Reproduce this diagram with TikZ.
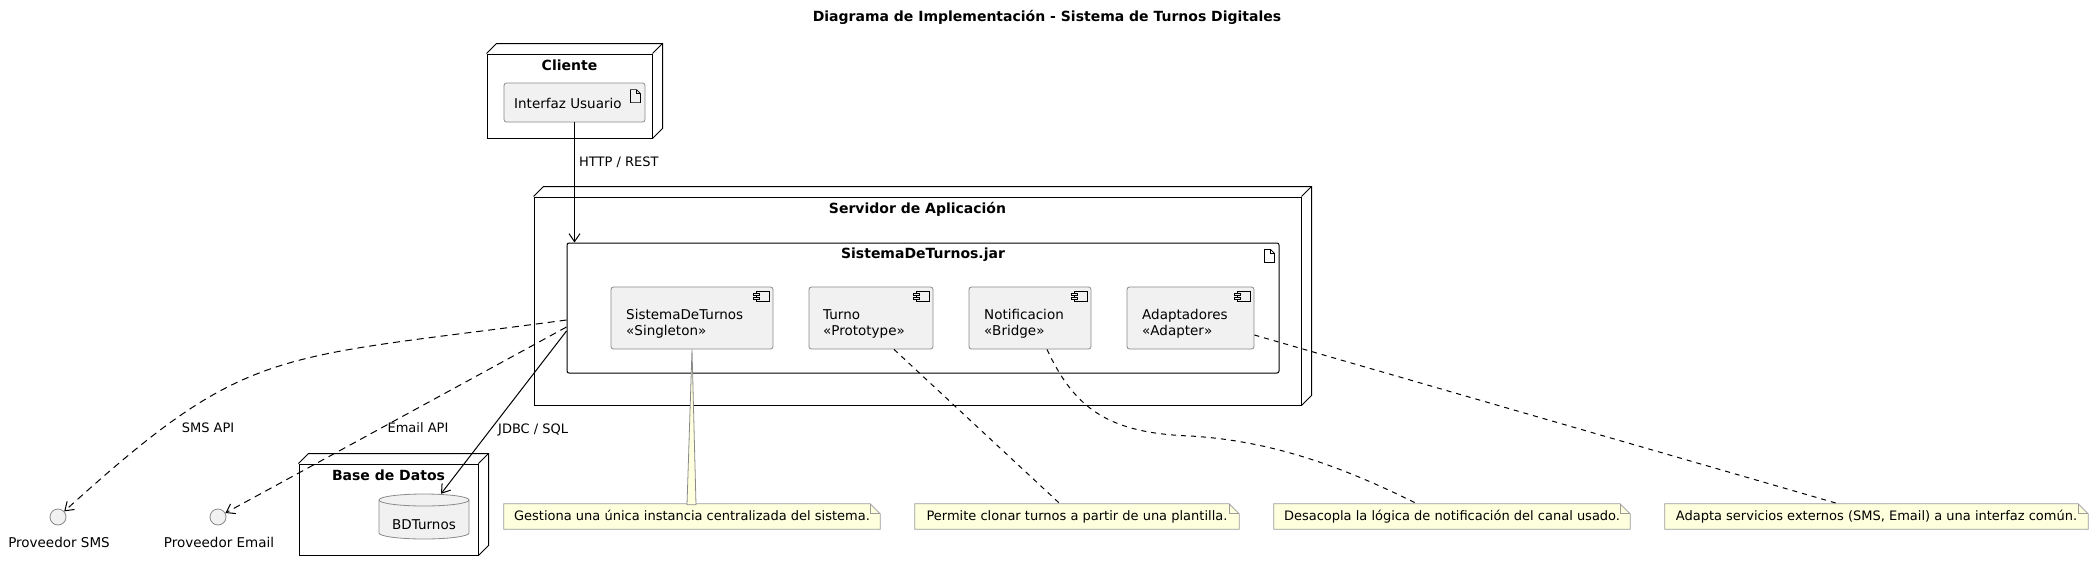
\documentclass[tikz,border=0pt]{standalone}
\usepackage{fontspec}
\setmainfont{DejaVu Sans}
\usepackage{tikz}
\usetikzlibrary{arrows.meta, backgrounds}
\definecolor{elemfill}{HTML}{F1F1F1}
\definecolor{elemgray}{HTML}{8A8A8A}
\definecolor{notefill}{HTML}{FEFFDD}
\definecolor{notegray}{HTML}{9A9A9A}
\tikzset{depnode/.style = {shape=rectangle,draw,line width=1pt,fill=white,inner sep=0pt}}
\tikzset{artifact/.style = {shape=rectangle,draw,line width=1pt,fill=white,rounded corners=2pt,inner sep=0pt}}
\tikzset{elem/.style = {shape=rectangle,draw=elemgray,fill=elemfill,line width=0.8pt,rounded corners=2.5pt,inner sep=0pt}}
\tikzset{iface/.style = {shape=circle,draw=elemgray,fill=elemfill,line width=0.8pt,minimum size=16pt,inner sep=0pt}}
\tikzset{notebox/.style = {shape=rectangle,inner sep=0pt,font=\fontsize{13}{15}\selectfont,text height=10pt,text depth=3pt}}
\tikzset{heading/.style = {font=\bfseries\fontsize{14}{16}\selectfont,inner sep=0pt}}
\tikzset{txt/.style = {font=\fontsize{13.5}{16}\selectfont,align=left,inner sep=0pt}}
\tikzset{elbl/.style = {font=\fontsize{13}{15}\selectfont,inner sep=0pt,text height=10pt,text depth=3pt}}
\tikzset{edge/.style = {->,> = {Straight Barb[length=8pt,width=11pt]},line width=1pt}}
\tikzset{dep/.style = {edge,dash pattern=on 7pt off 5pt}}
\tikzset{notelink/.style = {line width=1pt,dash pattern=on 5pt off 5pt}}
\tikzset{notewedge/.style = {draw=elemgray,fill=notefill,line width=0.8pt}}
\tikzset{foldline/.style = {draw=notegray,line width=0.8pt}}
\tikzset{iconline/.style = {line width=0.7pt}}
\newcommand{\threed}[1]{%
  \draw[line width=1pt] (#1.north west) -- ++(10,-10) -| ([shift={(10,-10)}]#1.south east) -- (#1.south east);
  \draw[line width=1pt] (#1.north east) -- ++(10,-10);}
\newcommand{\docicon}[1]{%
  \draw[iconline] ([shift={(-15,7)}]#1.north east) -- ++(6,0) -- ++(4,4) -- ++(0,9) -- ++(-10,0) -- cycle;
  \draw[iconline] ([shift={(-9,7)}]#1.north east) -- ++(0,4) -- ++(4,0);}
\newcommand{\compicon}[1]{%
  \draw[iconline] ([shift={(-17,5)}]#1.north east) rectangle ++(13,10);
  \draw[iconline,fill=elemfill] ([shift={(-20,7)}]#1.north east) rectangle ++(6,2);
  \draw[iconline,fill=elemfill] ([shift={(-20,11)}]#1.north east) rectangle ++(6,2);}
\newcommand{\notefold}[1]{%
  \begin{pgfonlayer}{background}
  \draw[foldline,fill=notefill] (#1.north west) -- ([xshift=-10pt]#1.north east) -- ([yshift=-10pt]#1.north east) -- (#1.south east) -- (#1.south west) -- cycle;
  \draw[foldline] ([xshift=-10pt]#1.north east) |- ([yshift=-10pt]#1.north east);
  \end{pgfonlayer}}

\begin{document}
\begin{tikzpicture}[x=1pt,y=-1pt]
        \useasboundingbox (0,0) rectangle (2094,571);
        \node[heading] (ttl) at (1047,17) {Diagrama de Implementación - Sistema de Turnos Digitales};
        \node[depnode, minimum width=165pt, minimum height=84pt] (cli) at (569.5,96) {};
        \threed{cli}
        \node[heading] (clitl) at (569.5,65) {Cliente};
        \node[elem, minimum width=141pt, minimum height=39pt] (ui) at (574.5,102.5) {};
        \docicon{ui}
        \node[txt, anchor=west] (uitxt) at (514,103) {Interfaz Usuario};
        \node[depnode, minimum width=767pt, minimum height=208pt] (srv) at (917.5,301) {};
        \threed{srv}
        \node[heading] (srvtl) at (917.5,209) {Servidor de Aplicación};
        \node[artifact, minimum width=712pt, minimum height=130pt] (jar) at (923,308) {};
        \docicon{jar}
        \node[heading] (jartl) at (923,255) {SistemaDeTurnos.jar};
        \node[elem, minimum width=162pt, minimum height=62pt] (sdt) at (692,318) {};
        \compicon{sdt}
        \node[txt, anchor=west] (sdttxt) at (626,324) {SistemaDeTurnos\\«Singleton»};
        \node[elem, minimum width=124pt, minimum height=62pt] (turno) at (871,318) {};
        \compicon{turno}
        \node[txt, anchor=west] (turnotxt) at (823,324) {Turno\\«Prototype»};
        \node[elem, minimum width=122pt, minimum height=62pt] (notif) at (1030,318) {};
        \compicon{notif}
        \node[txt, anchor=west] (notiftxt) at (984,324) {Notificacion\\«Bridge»};
        \node[elem, minimum width=127pt, minimum height=62pt] (adapt) at (1190.5,318) {};
        \compicon{adapt}
        \node[txt, anchor=west] (adapttxt) at (1142,324) {Adaptadores\\«Adapter»};
        \node[depnode, minimum width=179pt, minimum height=91pt] (bd) at (388.5,509.5) {};
        \threed{bd}
        \node[heading] (bdtl) at (388.5,475) {Base de Datos};
        \node[inner sep=0pt, minimum width=90pt, minimum height=45pt] (bdt) at (424,516.5) {};
        \fill[elemfill] (379,500) -- (379,533) arc[start angle=180, end angle=360, x radius=45pt, y radius=6pt] -- (469,500) arc[start angle=0, end angle=180, x radius=45pt, y radius=6pt] -- cycle;
        \draw[draw=elemgray, line width=0.8pt] (379,500) -- (379,533) arc[start angle=180, end angle=360, x radius=45pt, y radius=6pt] -- (469,500);
        \draw[draw=elemgray, line width=0.8pt] (424,500) ellipse [x radius=45pt, y radius=6pt];
        \node[txt] (bdttxt) at (424,525) {BDTurnos};
        \node[iface] (sms) at (58,517) {};
        \node[txt] (smstxt) at (59,542) {Proveedor SMS};
        \node[iface] (mail) at (218,517) {};
        \node[txt] (mailtxt) at (219,542) {Proveedor Email};
        \draw[edge] (ui.south) to (ui.south |- jar.north);
        \node[elbl, anchor=west] (httplbl) at (579,163) {HTTP / REST};
        \draw[dep] ([yshift=-12pt]jar.west) .. controls (270,360) and (249,344) .. (sms);
        \node[elbl] (smslbl) at (208,429) {SMS API};
        \draw[dep] ([yshift=-19pt]jar.west) to (mail);
        \node[elbl] (maillbl) at (418,429) {Email API};
        \draw[edge] ([yshift=-23pt]jar.west) to ([xshift=17pt]bdt.north);
        \node[elbl, anchor=west] (jdbclbl) at (498,430) {JDBC / SQL};
        \node[notebox, minimum width=376pt, minimum height=25pt] (n1) at (692,516.5) {Gestiona una única instancia centralizada del sistema.};
        \notefold{n1}
        \node[notebox, minimum width=324pt, minimum height=25pt] (n2) at (1077,516.5) {Permite clonar turnos a partir de una plantilla.};
        \notefold{n2}
        \node[notebox, minimum width=356pt, minimum height=25pt] (n3) at (1452,516.5) {Desacopla la lógica de notificación del canal usado.};
        \notefold{n3}
        \node[notebox, minimum width=423pt, minimum height=25pt] (n4) at (1876.5,516.5) {Adapta servicios externos (SMS, Email) a una interfaz común.};
        \notefold{n4}
        \draw[notewedge] (sdt.south) -- ([shift={(-5,1)}]n1.north) -- ([shift={(4,1)}]n1.north) -- cycle;
        \draw[notelink] ([xshift=23pt]turno.south) to ([xshift=-17pt]n2.north);
        \draw[notelink] ([xshift=17pt]notif.south) .. controls (1075,410) and (1110,433) .. (1190,436) .. controls (1260,440) and (1330,460) .. ([xshift=-35pt]n3.north);
        \draw[notelink] ([yshift=-17pt]adapt.east) to ([xshift=-38pt]n4.north);
    \end{tikzpicture}
\end{document}
